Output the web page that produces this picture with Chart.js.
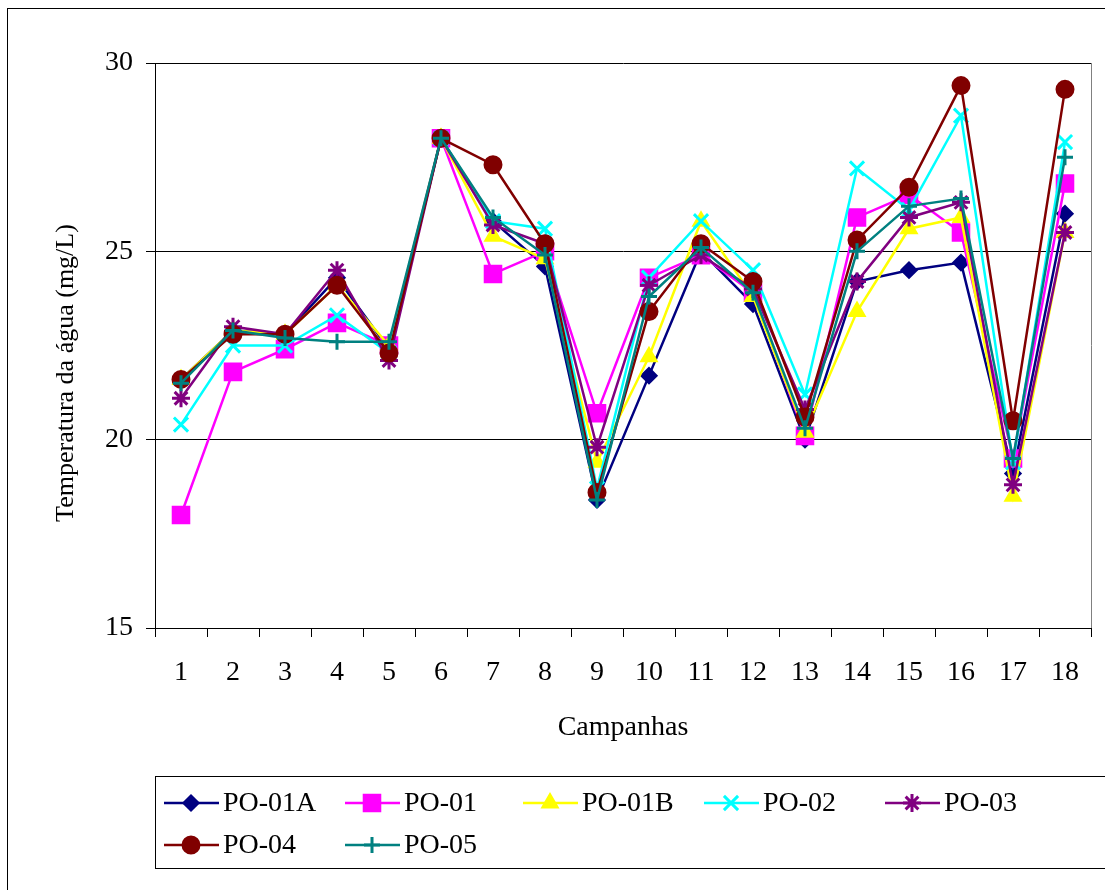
<!DOCTYPE html>
<html lang="pt-br">
<head>
<meta charset="UTF-8">
<title>Temperatura da água</title>
<script src="https://cdn.jsdelivr.net/npm/chart.js"></script>
<style>
  body { margin: 0; background: #fff; }
  canvas { display: block; }
</style>
</head>
<body>
<canvas id="grafico" width="1105" height="890"></canvas>

<script>
  // dados
  var campanhas = ['1','2','3','4','5','6','7','8','9','10','11','12','13','14','15','16','17','18'];
  var pontos = ['PO-01A', 'PO-01', 'PO-01B', 'PO-02', 'PO-03', 'PO-04', 'PO-05'];
  var ticksY = [15, 20, 25, 30];

  var po01a = [21.6, 22.9, 22.8, 24.3, 22.4, 28.0, 25.8, 24.6, 18.4, 21.7, 25.0, 23.6, 20.0, 24.2, 24.5, 24.7, 19.1, 26.0];
  var po01  = [18.0, 21.8, 22.4, 23.1, 22.5, 28.0, 24.4, 25.0, 20.7, 24.3, 24.9, 23.9, 20.1, 25.9, 26.5, 25.5, 19.5, 26.8];
  var po01b = [21.6, 22.9, 22.8, 24.1, 22.5, 28.0, 25.4, 24.8, 19.4, 22.2, 25.8, 23.8, 20.2, 23.4, 25.6, 25.9, 18.5, 25.5];
  var po02  = [20.4, 22.5, 22.5, 23.3, 22.3, 28.0, 25.8, 25.6, 18.7, 24.3, 25.8, 24.5, 21.2, 27.2, 26.1, 28.6, 19.4, 27.9];
  var po03  = [21.1, 23.0, 22.8, 24.5, 22.1, 28.0, 25.7, 25.2, 19.8, 24.1, 24.9, 24.0, 20.8, 24.2, 25.9, 26.3, 18.8, 25.5];
  var po04  = [21.6, 22.8, 22.8, 24.1, 22.3, 28.0, 27.3, 25.2, 18.6, 23.4, 25.2, 24.2, 20.6, 25.3, 26.7, 29.4, 20.5, 29.3];
  var po05  = [21.5, 22.9, 22.7, 22.6, 22.6, 28.0, 25.9, 24.9, 18.4, 23.8, 25.1, 23.9, 20.3, 25.0, 26.2, 26.4, 19.5, 27.5];

  var valores = [po01a, po01, po01b, po02, po03, po04, po05];
  var cores = ['#000080', '#FF00FF', '#FFFF00', '#00FFFF', '#800080', '#800000', '#008080'];
  var marcadores = ['rectRot', 'rect', 'triangle', 'crossRot', 'star', 'circle', 'cross'];
  var raios = [7, 11, 8, 10, 9, 8, 8];

  var fonte = '"Liberation Serif", "Times New Roman", serif';

  var datasets = pontos.map(function (nome, i) {
    return {
      label: nome,
      data: valores[i],
      borderColor: cores[i],
      backgroundColor: cores[i],
      borderWidth: 2.5,
      pointStyle: marcadores[i],
      pointRadius: raios[i],
      pointBorderWidth: 3,
      pointBorderColor: cores[i],
      pointBackgroundColor: cores[i],
      tension: 0,
      order: pontos.length - i   // o último fica por cima, como no Excel
    };
  });

  // legenda, título do eixo y e molduras
  var extras = {
    id: 'extras',
    afterDraw: function (chart) {
      var ctx = chart.ctx;
      var area = chart.chartArea;
      ctx.save();

      // moldura externa
      ctx.strokeStyle = '#000';
      ctx.lineWidth = 1;
      ctx.strokeRect(7.5, 8.5, 1200, 1000);

      // borda direita da área de plotagem
      ctx.strokeStyle = '#808080';
      ctx.beginPath();
      ctx.moveTo(Math.round(area.right) + 0.5, area.top);
      ctx.lineTo(Math.round(area.right) + 0.5, area.bottom);
      ctx.stroke();

      // título do eixo y
      ctx.fillStyle = '#000';
      ctx.font = '26px ' + fonte;
      ctx.textAlign = 'center';
      ctx.textBaseline = 'middle';
      ctx.translate(66, 373);
      ctx.rotate(-Math.PI / 2);
      ctx.fillText('Temperatura da água (mg/L)', 0, 0);
      ctx.setTransform(1, 0, 0, 1, 0, 0);

      // caixa da legenda
      ctx.strokeStyle = '#000';
      ctx.strokeRect(155.5, 776.5, 1000, 92);

      var posX = [164, 345, 523, 704, 885, 164, 345];
      var posY = [803, 803, 803, 803, 803, 845, 845];
      ctx.font = '28px ' + fonte;
      ctx.textAlign = 'left';
      for (var i = 0; i < pontos.length; i++) {
        var x = posX[i], y = posY[i];
        ctx.strokeStyle = cores[i];
        ctx.fillStyle = cores[i];
        ctx.lineWidth = 2.5;
        ctx.beginPath();
        ctx.moveTo(x, y);
        ctx.lineTo(x + 55, y);
        ctx.stroke();
        ctx.lineWidth = 3;
        Chart.helpers.drawPoint(ctx, {
          pointStyle: marcadores[i],
          radius: raios[i],
          rotation: 0,
          borderWidth: 3
        }, x + 27, y);
        ctx.fillStyle = '#000';
        ctx.fillText(pontos[i], x + 59, y + 1);
      }
      ctx.restore();
    }
  };

  new Chart(document.getElementById('grafico'), {
    type: 'line',
    data: { labels: campanhas, datasets: datasets },
    plugins: [extras],
    options: {
      responsive: false,
      animation: false,
      devicePixelRatio: 1,
      layout: { padding: { top: 63, right: 12, left: 0, bottom: 0 } },
      plugins: {
        legend: { display: false },
        tooltip: { enabled: false }
      },
      scales: {
        x: {
          type: 'category',
          offset: true,
          afterFit: function (s) { s.height = 262; },
          grid: {
            offset: true,
            drawOnChartArea: false,
            drawTicks: true,
            tickLength: 9,
            color: '#000'
          },
          border: { color: '#000', width: 1 },
          ticks: {
            color: '#000',
            font: { family: fonte, size: 28 },
            padding: 19,
            maxRotation: 0,
            autoSkip: false
          },
          title: {
            display: true,
            text: 'Campanhas',
            color: '#000',
            font: { family: fonte, size: 28 },
            padding: { top: 0, bottom: 146 }
          }
        },
        y: {
          min: ticksY[0],
          max: ticksY[ticksY.length - 1],
          afterFit: function (s) { s.width = 155; },
          afterBuildTicks: function (s) {
            s.ticks = ticksY.map(function (v) { return { value: v }; });
          },
          grid: {
            color: '#000',
            lineWidth: 1,
            drawTicks: true,
            tickLength: 9
          },
          border: { color: '#000', width: 1 },
          ticks: {
            color: '#000',
            font: { family: fonte, size: 28 },
            padding: 13
          }
        }
      }
    }
  });
</script>
</body>
</html>
